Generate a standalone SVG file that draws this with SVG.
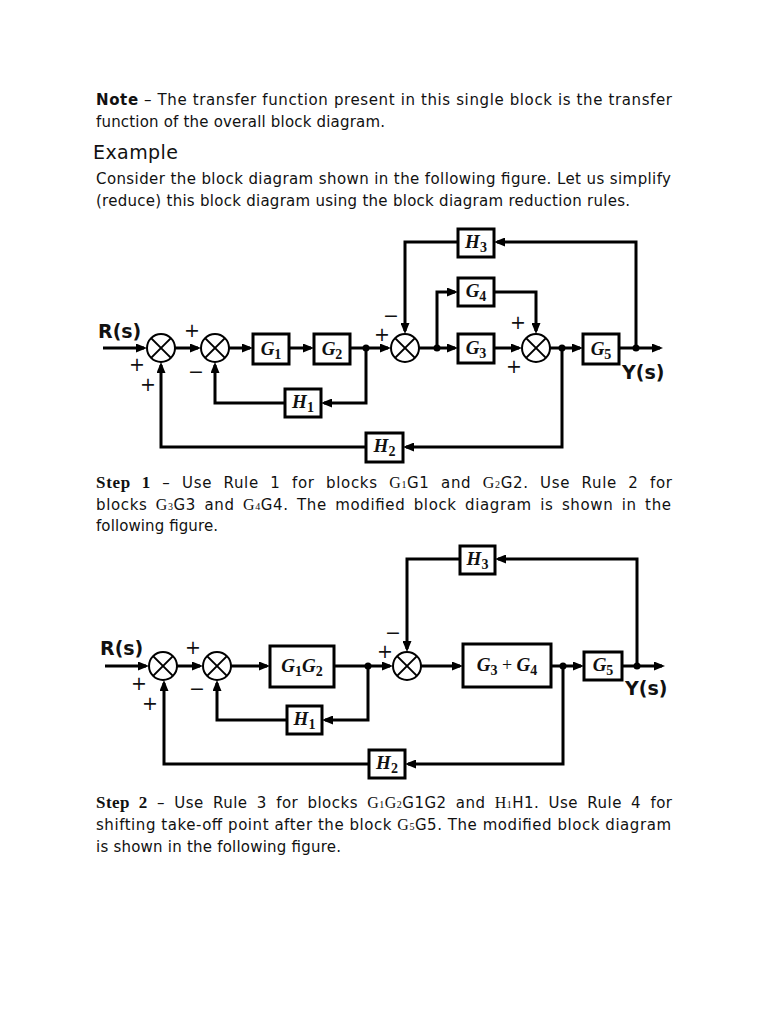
<svg xmlns="http://www.w3.org/2000/svg" width="768" height="1024" viewBox="0 0 768 1024">
<style>
.t{font-family:"DejaVu Sans",Verdana,sans-serif;font-size:15px;fill:#111}
.bs{font-weight:bold}
.st{font-family:"Liberation Serif","Times New Roman",serif;font-weight:bold;font-size:17px}
.m{font-family:"Liberation Serif","Times New Roman",serif;font-size:16px}
.ms{font-size:10px}
.w{stroke:#000;stroke-width:3;fill:none;stroke-linejoin:miter}
.box{fill:#fff;stroke:#000;stroke-width:3}
.sum{fill:#fff;stroke:#000;stroke-width:2}
.x{stroke:#000;stroke-width:2}
.lbl{font-family:"Liberation Serif","Times New Roman",serif;font-weight:bold;font-style:italic;font-size:19px;text-anchor:middle;fill:#111}
.sub{font-style:normal;font-size:14px}
.pl{font-family:"Liberation Serif",serif;font-style:normal;font-weight:normal;font-size:18px}
.sig{font-family:"DejaVu Sans",sans-serif;font-size:19px;text-anchor:middle;dominant-baseline:central;fill:#111}
.io{font-family:"DejaVu Sans",Verdana,sans-serif;font-weight:bold;font-size:19px;fill:#111}
.dot{fill:#000}
</style>
<defs>
<marker id="ah" viewBox="0 0 11 9" refX="8" refY="4.5" markerWidth="11" markerHeight="9" markerUnits="userSpaceOnUse" orient="auto">
<path d="M0,0 L11,4.5 L0,9 z" fill="#000"/>
</marker>
<g id="sumx">
<circle r="14" class="sum"/>
<line x1="-9.9" y1="-9.9" x2="9.9" y2="9.9" class="x"/>
<line x1="-9.9" y1="9.9" x2="9.9" y2="-9.9" class="x"/>
</g>
</defs>
<rect width="768" height="1024" fill="#fff"/>

<g id="text">
<text class="t" x="96" y="105" textLength="576" lengthAdjust="spacing"><tspan class="bs">Note</tspan> – The transfer function present in this single block is the transfer</text>
<text class="t" x="96" y="127" textLength="289" lengthAdjust="spacing">function of the overall block diagram.</text>
<text class="t" x="93" y="159" style="font-size:19px" textLength="85" lengthAdjust="spacing">Example</text>
<text class="t" x="96" y="184" textLength="575" lengthAdjust="spacing">Consider the block diagram shown in the following figure. Let us simplify</text>
<text class="t" x="96" y="206" textLength="534" lengthAdjust="spacing">(reduce) this block diagram using the block diagram reduction rules.</text>

<text class="t" x="96" y="488" word-spacing="6" textLength="576" lengthAdjust="spacing"><tspan class="st">Step 1</tspan> – Use Rule 1 for blocks <tspan class="m">G<tspan class="ms">1</tspan></tspan>G1 and <tspan class="m">G<tspan class="ms">2</tspan></tspan>G2. Use Rule 2 for</text>
<text class="t" x="96" y="510" word-spacing="3" textLength="575" lengthAdjust="spacing">blocks <tspan class="m">G<tspan class="ms">3</tspan></tspan>G3 and <tspan class="m">G<tspan class="ms">4</tspan></tspan>G4. The modified block diagram is shown in the</text>
<text class="t" x="96" y="531" textLength="122" lengthAdjust="spacing">following figure.</text>

<text class="t" x="96" y="808" word-spacing="4" textLength="576" lengthAdjust="spacing"><tspan class="st">Step 2</tspan> – Use Rule 3 for blocks <tspan class="m">G<tspan class="ms">1</tspan>G<tspan class="ms">2</tspan></tspan>G1G2 and <tspan class="m">H<tspan class="ms">1</tspan></tspan>H1. Use Rule 4 for</text>
<text class="t" x="96" y="830" textLength="575" lengthAdjust="spacing">shifting take-off point after the block <tspan class="m">G<tspan class="ms">5</tspan></tspan>G5. The modified block diagram</text>
<text class="t" x="96" y="852" textLength="245" lengthAdjust="spacing">is shown in the following figure.</text>
</g>

<!-- Diagram 1 -->
<g id="d1-connectors">
<path class="w" d="M103,348 H144" marker-end="url(#ah)"/>
<path class="w" d="M175,348 H198" marker-end="url(#ah)"/>
<path class="w" d="M229,348 H250" marker-end="url(#ah)"/>
<path class="w" d="M289,348 H311" marker-end="url(#ah)"/>
<path class="w" d="M350,348 H388" marker-end="url(#ah)"/>
<path class="w" d="M419,348 H455" marker-end="url(#ah)"/>
<path class="w" d="M494,348 H519" marker-end="url(#ah)"/>
<path class="w" d="M550,348 H580" marker-end="url(#ah)"/>
<path class="w" d="M619,348 H660" marker-end="url(#ah)"/>
<path class="w" d="M636,348 V242 H497" marker-end="url(#ah)"/>
<path class="w" d="M458,242 H405 V331" marker-end="url(#ah)"/>
<path class="w" d="M437,348 V292 H455" marker-end="url(#ah)"/>
<path class="w" d="M494,292 H536 V331" marker-end="url(#ah)"/>
<path class="w" d="M562,348 V447 H406" marker-end="url(#ah)"/>
<path class="w" d="M366,447 H161 V365" marker-end="url(#ah)"/>
<path class="w" d="M366,348 V403 H324" marker-end="url(#ah)"/>
<path class="w" d="M285,403 H215 V365" marker-end="url(#ah)"/>
<circle class="dot" cx="366" cy="348" r="3.5"/>
<circle class="dot" cx="437" cy="348" r="3.5"/>
<circle class="dot" cx="562" cy="348" r="3.5"/>
<circle class="dot" cx="636" cy="348" r="3.5"/>
</g>
<g id="d1-sum1"><use href="#sumx" x="161" y="348"/></g>
<g id="d1-sum2"><use href="#sumx" x="215" y="348"/></g>
<g id="d1-sum3"><use href="#sumx" x="405" y="348"/></g>
<g id="d1-sum4"><use href="#sumx" x="536" y="348"/></g>
<g id="d1-G1"><rect class="box" x="253" y="334" width="36" height="30"/><text class="lbl" x="271" y="355">G<tspan class="sub" dy="4">1</tspan></text></g>
<g id="d1-G2"><rect class="box" x="314" y="334" width="36" height="30"/><text class="lbl" x="332" y="355">G<tspan class="sub" dy="4">2</tspan></text></g>
<g id="d1-G3"><rect class="box" x="458" y="334" width="36" height="29"/><text class="lbl" x="476" y="354">G<tspan class="sub" dy="4">3</tspan></text></g>
<g id="d1-G4"><rect class="box" x="458" y="278" width="36" height="28"/><text class="lbl" x="476" y="297">G<tspan class="sub" dy="4">4</tspan></text></g>
<g id="d1-G5"><rect class="box" x="583" y="334" width="36" height="30"/><text class="lbl" x="601" y="355">G<tspan class="sub" dy="4">5</tspan></text></g>
<g id="d1-H3"><rect class="box" x="458" y="229" width="36" height="28"/><text class="lbl" x="476" y="248">H<tspan class="sub" dy="4">3</tspan></text></g>
<g id="d1-H1"><rect class="box" x="285" y="389" width="36" height="28"/><text class="lbl" x="303" y="408">H<tspan class="sub" dy="4">1</tspan></text></g>
<g id="d1-H2"><rect class="box" x="366" y="433" width="37" height="29"/><text class="lbl" x="384.5" y="452">H<tspan class="sub" dy="4">2</tspan></text></g>
<g id="d1-labels">
<text class="io" x="98" y="338">R(s)</text>
<text class="io" x="622" y="379">Y(s)</text>
<text class="sig" x="137" y="364">+</text>
<text class="sig" x="148" y="384">+</text>
<text class="sig" x="192" y="330">+</text>
<text class="sig" x="196" y="371">−</text>
<text class="sig" x="382" y="334">+</text>
<text class="sig" x="391" y="315">−</text>
<text class="sig" x="518" y="322">+</text>
<text class="sig" x="514" y="366">+</text>
</g>

<!-- Diagram 2 -->
<g id="d2-connectors">
<path class="w" d="M105,666 H146" marker-end="url(#ah)"/>
<path class="w" d="M177,666 H200" marker-end="url(#ah)"/>
<path class="w" d="M231,666 H267" marker-end="url(#ah)"/>
<path class="w" d="M334,666 H390" marker-end="url(#ah)"/>
<path class="w" d="M421,666 H460" marker-end="url(#ah)"/>
<path class="w" d="M551,666 H581" marker-end="url(#ah)"/>
<path class="w" d="M622,666 H662" marker-end="url(#ah)"/>
<path class="w" d="M637,666 V559 H498" marker-end="url(#ah)"/>
<path class="w" d="M460,559 H407 V649" marker-end="url(#ah)"/>
<path class="w" d="M563,666 V764 H408" marker-end="url(#ah)"/>
<path class="w" d="M369,764 H164 V683" marker-end="url(#ah)"/>
<path class="w" d="M368,666 V720 H325" marker-end="url(#ah)"/>
<path class="w" d="M287,720 H217 V683" marker-end="url(#ah)"/>
<circle class="dot" cx="368" cy="666" r="3.5"/>
<circle class="dot" cx="563" cy="666" r="3.5"/>
<circle class="dot" cx="637" cy="666" r="3.5"/>
</g>
<g id="d2-sum1"><use href="#sumx" x="163" y="666"/></g>
<g id="d2-sum2"><use href="#sumx" x="217" y="666"/></g>
<g id="d2-sum3"><use href="#sumx" x="407" y="666"/></g>
<g id="d2-G1G2"><rect class="box" x="270" y="646" width="64" height="41"/><text class="lbl" x="302" y="672">G<tspan class="sub" dy="4">1</tspan><tspan dy="-4">G</tspan><tspan class="sub" dy="4">2</tspan></text></g>
<g id="d2-G3G4"><rect class="box" x="463" y="644" width="88" height="43"/><text class="lbl" x="507" y="671">G<tspan class="sub" dy="4">3</tspan><tspan class="pl" dy="-4"> + </tspan>G<tspan class="sub" dy="4">4</tspan></text></g>
<g id="d2-G5"><rect class="box" x="584" y="652" width="38" height="28"/><text class="lbl" x="603" y="671">G<tspan class="sub" dy="4">5</tspan></text></g>
<g id="d2-H3"><rect class="box" x="460" y="546" width="35" height="28"/><text class="lbl" x="477.5" y="565">H<tspan class="sub" dy="4">3</tspan></text></g>
<g id="d2-H1"><rect class="box" x="287" y="706" width="35" height="28"/><text class="lbl" x="304.5" y="725">H<tspan class="sub" dy="4">1</tspan></text></g>
<g id="d2-H2"><rect class="box" x="369" y="750" width="36" height="28"/><text class="lbl" x="387" y="769">H<tspan class="sub" dy="4">2</tspan></text></g>
<g id="d2-labels">
<text class="io" x="100" y="655">R(s)</text>
<text class="io" x="625" y="695">Y(s)</text>
<text class="sig" x="139" y="683">+</text>
<text class="sig" x="150" y="703">+</text>
<text class="sig" x="193" y="647">+</text>
<text class="sig" x="197" y="688">−</text>
<text class="sig" x="385" y="651">+</text>
<text class="sig" x="393" y="632">−</text>
</g>
</svg>
